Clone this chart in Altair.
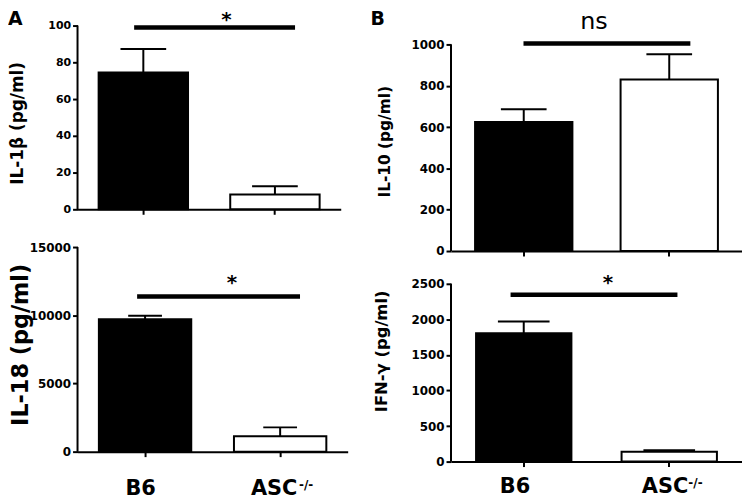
import altair as alt
import pandas as pd

FONT = "DejaVu Sans"

groups = ["B6", "ASC-/-"]
bar_fills = ["black", "white"]

# IL-1beta (pg/ml): mean and upper end of error bar
il1b_mean = [74.5, 8.0]
il1b_top = [87.3, 12.5]
il1b_ticks = [0, 20, 40, 60, 80, 100]

# IL-18 (pg/ml)
il18_mean = [9700, 1130]
il18_top = [9960, 1780]
il18_ticks = [0, 5000, 10000, 15000]

# IL-10 (pg/ml)
il10_mean = [625, 830]
il10_top = [686, 952]
il10_ticks = [0, 200, 400, 600, 800, 1000]

# IFN-gamma (pg/ml)
ifng_mean = [1805, 140]
ifng_top = [1970, 158]
ifng_ticks = [0, 500, 1000, 1500, 2000, 2500]


def text_layer(t, x, y, size, weight="bold", align="center", baseline="alphabetic", angle=None):
    kw = dict(font=FONT, fontSize=size, fontWeight=weight, align=align,
              baseline=baseline, color="black", opacity=1)
    if angle is not None:
        kw["angle"] = angle
    return (alt.Chart(pd.DataFrame({"t": [t]}))
            .mark_text(**kw)
            .encode(text="t:N", x=alt.value(x), y=alt.value(y)))


def sig_rule(x1, x2, y):
    return (alt.Chart(pd.DataFrame({"k": [0]}))
            .mark_rule(color="black", strokeWidth=4.5, opacity=1)
            .encode(x=alt.value(x1), x2=alt.value(x2), y=alt.value(y)))


def panel(mean, top, ticks, ymax, W, H, tick_fs, bar_w, cap_w, extras,
          yrange=None, xoffset=0):
    df = pd.DataFrame({"group": groups, "mean": mean, "top": top, "fill": bar_fills})
    xs = alt.Scale(domain=groups, paddingInner=0, paddingOuter=0)
    xa = alt.Axis(labels=False, title=None, grid=False, domainColor="black",
                  domainWidth=2, tickColor="black", tickWidth=2, tickSize=5,
                  offset=xoffset)
    if yrange is None:
        ys = alt.Scale(domain=[0, ymax], nice=False, zero=True)
    else:
        ys = alt.Scale(domain=[0, ymax], nice=False, zero=True, range=yrange)
    ya = alt.Axis(values=ticks, format="d", title=None, grid=False, domain=False,
                  tickColor="black", tickWidth=2, tickSize=5, labelPadding=2,
                  labelFont=FONT, labelFontWeight="bold", labelFontSize=tick_fs,
                  labelColor="black")

    def X():
        return alt.X("group:N", scale=xs, axis=xa)

    base = alt.Chart(df)
    yline = (alt.Chart(pd.DataFrame({"lo": [0], "hi": [ticks[-1]]}))
             .mark_rule(color="black", strokeWidth=2, opacity=1)
             .encode(x=alt.value(0), y=alt.Y("lo:Q", scale=ys, axis=ya), y2="hi:Q"))
    bars = (base.mark_bar(width=bar_w, stroke="black", strokeWidth=2, opacity=1)
            .encode(x=X(), y=alt.Y("mean:Q", scale=ys, axis=ya),
                    fill=alt.Fill("fill:N", scale=None)))
    err = (base.mark_rule(color="black", strokeWidth=2, opacity=1)
           .encode(x=X(), y=alt.Y("mean:Q", scale=ys, axis=ya), y2="top:Q"))
    cap = (base.mark_tick(color="black", size=cap_w, thickness=2, opacity=1)
           .encode(x=X(), y=alt.Y("top:Q", scale=ys, axis=ya)))
    return alt.layer(yline, bars, err, cap, *extras).properties(width=W, height=H)


a_top = panel(il1b_mean, il1b_top, il1b_ticks, 100, 265, 185, 11, 90, 46, [
    text_layer("A", -70, -16, 19, align="left", baseline="top"),
    text_layer("IL-1β (pg/ml)", -59.5, 98.5, 17, baseline="middle", angle=270),
    sig_rule(57, 219, 2),
    text_layer("*", 150, -16, 20, baseline="top"),
])

b_top = panel(il10_mean, il10_top, il10_ticks, 1091.3, 293, 223, 12, 98, 46, [
    text_layer("B", -81, -16, 19, align="left", baseline="top"),
    text_layer("IL-10 (pg/ml)", -66.5, 117, 15.5, baseline="middle", angle=270),
    sig_rule(73, 241, 18),
    text_layer("ns", 144, 3.2, 24, weight="normal"),
], yrange=[227, 0], xoffset=4)

a_bot = panel(il18_mean, il18_top, il18_ticks, 15000, 272, 206, 12, 93, 34, [
    text_layer("IL-18 (pg/ml)", -56.5, 98.5, 22.5, baseline="middle", angle=270),
    sig_rule(60, 224, 49.7),
    text_layer("*", 155.5, 26, 20, baseline="top"),
    text_layer("B6", 63.5, 250, 21),
    text_layer("ASC", 198, 250, 21),
    text_layer("-/-", 223, 243.7, 12, align="left"),
])

b_bot = panel(ifng_mean, ifng_top, ifng_ticks, 3016.8, 293, 216, 12, 96, 52, [
    text_layer("IFN-γ (pg/ml)", -69.5, 105, 16.5, baseline="middle", angle=270),
    sig_rule(60, 228, 48),
    text_layer("*", 158, 26, 20, baseline="top"),
    text_layer("B6", 64.5, 248, 21),
    text_layer("ASC", 215.5, 248, 21),
    text_layer("-/-", 239, 241.7, 12, align="left"),
])

chart = (alt.concat(a_top, b_top, a_bot, b_bot, columns=2,
                    spacing=alt.RowColnumber(row=0, column=104), bounds="flush")
         .properties(padding=0)
         .configure_view(stroke=None))

chart.save("out.html", embed_options={"renderer": "svg", "actions": False})
